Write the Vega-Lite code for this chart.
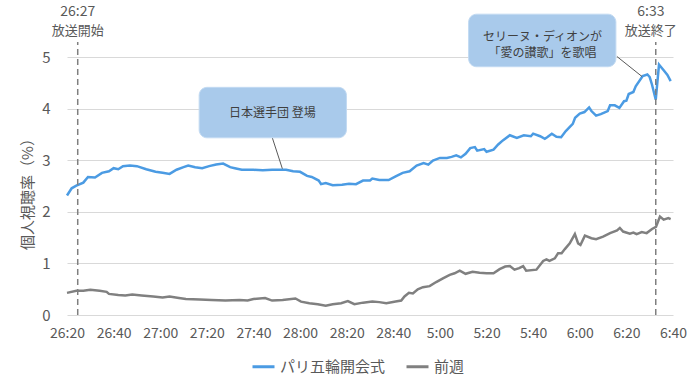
{
  "$schema": "https://vega.github.io/schema/vega-lite/v6.json",
  "width": 606,
  "height": 273,
  "autosize": {"type": "none"},
  "padding": {"left": 67, "top": 42, "right": 27, "bottom": 71},
  "config": {"view": {"stroke": null}, "font": "Noto Sans CJK JP"},
  "datasets": {
    "lines": [
      {"s": "パリ五輪開会式", "t": 0, "v": 2.32}, {"s": "パリ五輪開会式", "t": 2, "v": 2.46}, {"s": "パリ五輪開会式", "t": 4, "v": 2.51}, {"s": "パリ五輪開会式", "t": 7, "v": 2.57}, {"s": "パリ五輪開会式", "t": 9, "v": 2.68}, {"s": "パリ五輪開会式", "t": 12, "v": 2.67}, {"s": "パリ五輪開会式", "t": 15, "v": 2.76}, {"s": "パリ五輪開会式", "t": 18, "v": 2.79}, {"s": "パリ五輪開会式", "t": 20, "v": 2.85}, {"s": "パリ五輪開会式", "t": 22, "v": 2.83}, {"s": "パリ五輪開会式", "t": 24, "v": 2.89}, {"s": "パリ五輪開会式", "t": 27, "v": 2.9}, {"s": "パリ五輪開会式", "t": 30, "v": 2.89}, {"s": "パリ五輪開会式", "t": 34, "v": 2.83}, {"s": "パリ五輪開会式", "t": 38, "v": 2.78}, {"s": "パリ五輪開会式", "t": 41, "v": 2.76}, {"s": "パリ五輪開会式", "t": 44, "v": 2.74}, {"s": "パリ五輪開会式", "t": 47, "v": 2.82}, {"s": "パリ五輪開会式", "t": 50, "v": 2.87}, {"s": "パリ五輪開会式", "t": 52, "v": 2.9}, {"s": "パリ五輪開会式", "t": 55, "v": 2.87}, {"s": "パリ五輪開会式", "t": 58, "v": 2.85}, {"s": "パリ五輪開会式", "t": 61, "v": 2.89}, {"s": "パリ五輪開会式", "t": 64, "v": 2.92}, {"s": "パリ五輪開会式", "t": 67, "v": 2.94}, {"s": "パリ五輪開会式", "t": 70, "v": 2.87}, {"s": "パリ五輪開会式", "t": 72, "v": 2.85}, {"s": "パリ五輪開会式", "t": 75, "v": 2.82}, {"s": "パリ五輪開会式", "t": 80, "v": 2.82}, {"s": "パリ五輪開会式", "t": 84, "v": 2.81}, {"s": "パリ五輪開会式", "t": 88, "v": 2.82}, {"s": "パリ五輪開会式", "t": 94, "v": 2.82}, {"s": "パリ五輪開会式", "t": 97, "v": 2.79}, {"s": "パリ五輪開会式", "t": 100, "v": 2.78}, {"s": "パリ五輪開会式", "t": 103, "v": 2.7}, {"s": "パリ五輪開会式", "t": 105, "v": 2.68}, {"s": "パリ五輪開会式", "t": 108, "v": 2.61}, {"s": "パリ五輪開会式", "t": 109, "v": 2.54}, {"s": "パリ五輪開会式", "t": 111, "v": 2.56}, {"s": "パリ五輪開会式", "t": 114, "v": 2.52}, {"s": "パリ五輪開会式", "t": 118, "v": 2.53}, {"s": "パリ五輪開会式", "t": 121, "v": 2.55}, {"s": "パリ五輪開会式", "t": 124, "v": 2.54}, {"s": "パリ五輪開会式", "t": 127, "v": 2.61}, {"s": "パリ五輪開会式", "t": 130, "v": 2.61}, {"s": "パリ五輪開会式", "t": 131, "v": 2.65}, {"s": "パリ五輪開会式", "t": 134, "v": 2.62}, {"s": "パリ五輪開会式", "t": 138, "v": 2.62}, {"s": "パリ五輪開会式", "t": 141, "v": 2.69}, {"s": "パリ五輪開会式", "t": 144, "v": 2.76}, {"s": "パリ五輪開会式", "t": 147, "v": 2.79}, {"s": "パリ五輪開会式", "t": 150, "v": 2.9}, {"s": "パリ五輪開会式", "t": 153, "v": 2.95}, {"s": "パリ五輪開会式", "t": 155, "v": 2.92}, {"s": "パリ五輪開会式", "t": 157, "v": 3.0}, {"s": "パリ五輪開会式", "t": 160, "v": 3.05}, {"s": "パリ五輪開会式", "t": 163, "v": 3.05}, {"s": "パリ五輪開会式", "t": 165, "v": 3.07}, {"s": "パリ五輪開会式", "t": 167, "v": 3.1}, {"s": "パリ五輪開会式", "t": 169, "v": 3.06}, {"s": "パリ五輪開会式", "t": 171, "v": 3.13}, {"s": "パリ五輪開会式", "t": 173, "v": 3.24}, {"s": "パリ五輪開会式", "t": 175, "v": 3.26}, {"s": "パリ五輪開会式", "t": 176, "v": 3.19}, {"s": "パリ五輪開会式", "t": 179, "v": 3.22}, {"s": "パリ五輪開会式", "t": 180, "v": 3.17}, {"s": "パリ五輪開会式", "t": 183, "v": 3.21}, {"s": "パリ五輪開会式", "t": 185, "v": 3.31}, {"s": "パリ五輪開会式", "t": 187, "v": 3.39}, {"s": "パリ五輪開会式", "t": 190, "v": 3.49}, {"s": "パリ五輪開会式", "t": 193, "v": 3.44}, {"s": "パリ五輪開会式", "t": 196, "v": 3.49}, {"s": "パリ五輪開会式", "t": 199, "v": 3.47}, {"s": "パリ五輪開会式", "t": 200, "v": 3.52}, {"s": "パリ五輪開会式", "t": 203, "v": 3.47}, {"s": "パリ五輪開会式", "t": 205, "v": 3.42}, {"s": "パリ五輪開会式", "t": 206, "v": 3.45}, {"s": "パリ五輪開会式", "t": 208, "v": 3.52}, {"s": "パリ五輪開会式", "t": 210, "v": 3.46}, {"s": "パリ五輪開会式", "t": 212, "v": 3.45}, {"s": "パリ五輪開会式", "t": 214, "v": 3.57}, {"s": "パリ五輪開会式", "t": 217, "v": 3.71}, {"s": "パリ五輪開会式", "t": 218, "v": 3.83}, {"s": "パリ五輪開会式", "t": 220, "v": 3.91}, {"s": "パリ五輪開会式", "t": 222, "v": 3.94}, {"s": "パリ五輪開会式", "t": 224, "v": 4.03}, {"s": "パリ五輪開会式", "t": 225, "v": 3.96}, {"s": "パリ五輪開会式", "t": 227, "v": 3.87}, {"s": "パリ五輪開会式", "t": 229, "v": 3.9}, {"s": "パリ五輪開会式", "t": 232, "v": 3.96}, {"s": "パリ五輪開会式", "t": 233, "v": 4.07}, {"s": "パリ五輪開会式", "t": 235, "v": 4.07}, {"s": "パリ五輪開会式", "t": 237, "v": 4.02}, {"s": "パリ五輪開会式", "t": 239, "v": 4.15}, {"s": "パリ五輪開会式", "t": 240, "v": 4.16}, {"s": "パリ五輪開会式", "t": 241, "v": 4.29}, {"s": "パリ五輪開会式", "t": 243, "v": 4.33}, {"s": "パリ五輪開会式", "t": 244, "v": 4.44}, {"s": "パリ五輪開会式", "t": 247, "v": 4.64}, {"s": "パリ五輪開会式", "t": 249, "v": 4.67}, {"s": "パリ五輪開会式", "t": 250, "v": 4.62}, {"s": "パリ五輪開会式", "t": 251, "v": 4.47}, {"s": "パリ五輪開会式", "t": 252.6, "v": 4.18}, {"s": "パリ五輪開会式", "t": 254, "v": 4.86}, {"s": "パリ五輪開会式", "t": 256, "v": 4.75}, {"s": "パリ五輪開会式", "t": 257.6, "v": 4.66}, {"s": "パリ五輪開会式", "t": 259, "v": 4.54},
      {"s": "前週", "t": 0, "v": 0.43}, {"s": "前週", "t": 4, "v": 0.47}, {"s": "前週", "t": 7, "v": 0.47}, {"s": "前週", "t": 10, "v": 0.49}, {"s": "前週", "t": 14, "v": 0.47}, {"s": "前週", "t": 17, "v": 0.45}, {"s": "前週", "t": 18, "v": 0.41}, {"s": "前週", "t": 22, "v": 0.39}, {"s": "前週", "t": 25, "v": 0.38}, {"s": "前週", "t": 28, "v": 0.4}, {"s": "前週", "t": 32, "v": 0.38}, {"s": "前週", "t": 37, "v": 0.36}, {"s": "前週", "t": 41, "v": 0.34}, {"s": "前週", "t": 44, "v": 0.36}, {"s": "前週", "t": 48, "v": 0.33}, {"s": "前週", "t": 51, "v": 0.31}, {"s": "前週", "t": 57, "v": 0.3}, {"s": "前週", "t": 62, "v": 0.29}, {"s": "前週", "t": 68, "v": 0.28}, {"s": "前週", "t": 74, "v": 0.29}, {"s": "前週", "t": 77.5, "v": 0.28}, {"s": "前週", "t": 80, "v": 0.31}, {"s": "前週", "t": 85, "v": 0.33}, {"s": "前週", "t": 88, "v": 0.28}, {"s": "前週", "t": 92.5, "v": 0.29}, {"s": "前週", "t": 98, "v": 0.32}, {"s": "前週", "t": 100.4, "v": 0.26}, {"s": "前週", "t": 104, "v": 0.23}, {"s": "前週", "t": 107.6, "v": 0.21}, {"s": "前週", "t": 111, "v": 0.18}, {"s": "前週", "t": 114, "v": 0.21}, {"s": "前週", "t": 117.6, "v": 0.23}, {"s": "前週", "t": 120.5, "v": 0.27}, {"s": "前週", "t": 123.3, "v": 0.21}, {"s": "前週", "t": 127, "v": 0.24}, {"s": "前週", "t": 131, "v": 0.26}, {"s": "前週", "t": 134, "v": 0.25}, {"s": "前週", "t": 137, "v": 0.23}, {"s": "前週", "t": 141, "v": 0.26}, {"s": "前週", "t": 143.4, "v": 0.28}, {"s": "前週", "t": 144.8, "v": 0.36}, {"s": "前週", "t": 146.7, "v": 0.43}, {"s": "前週", "t": 148.4, "v": 0.42}, {"s": "前週", "t": 150.5, "v": 0.5}, {"s": "前週", "t": 152.7, "v": 0.54}, {"s": "前週", "t": 155.6, "v": 0.56}, {"s": "前週", "t": 158.4, "v": 0.64}, {"s": "前週", "t": 161.3, "v": 0.71}, {"s": "前週", "t": 164.2, "v": 0.78}, {"s": "前週", "t": 166.3, "v": 0.81}, {"s": "前週", "t": 168.5, "v": 0.86}, {"s": "前週", "t": 171, "v": 0.8}, {"s": "前週", "t": 174, "v": 0.84}, {"s": "前週", "t": 177, "v": 0.82}, {"s": "前週", "t": 180, "v": 0.81}, {"s": "前週", "t": 183, "v": 0.81}, {"s": "前週", "t": 185.6, "v": 0.89}, {"s": "前週", "t": 188, "v": 0.94}, {"s": "前週", "t": 190, "v": 0.95}, {"s": "前週", "t": 192, "v": 0.88}, {"s": "前週", "t": 194, "v": 0.91}, {"s": "前週", "t": 195.7, "v": 0.95}, {"s": "前週", "t": 197, "v": 0.86}, {"s": "前週", "t": 201.4, "v": 0.88}, {"s": "前週", "t": 204.3, "v": 1.05}, {"s": "前週", "t": 205.7, "v": 1.08}, {"s": "前週", "t": 207, "v": 1.05}, {"s": "前週", "t": 209.3, "v": 1.1}, {"s": "前週", "t": 210.7, "v": 1.2}, {"s": "前週", "t": 212.2, "v": 1.2}, {"s": "前週", "t": 213.6, "v": 1.28}, {"s": "前週", "t": 215.7, "v": 1.39}, {"s": "前週", "t": 217.9, "v": 1.57}, {"s": "前週", "t": 219.3, "v": 1.39}, {"s": "前週", "t": 220.3, "v": 1.36}, {"s": "前週", "t": 222.2, "v": 1.54}, {"s": "前週", "t": 225, "v": 1.49}, {"s": "前週", "t": 227, "v": 1.47}, {"s": "前週", "t": 230, "v": 1.52}, {"s": "前週", "t": 233, "v": 1.59}, {"s": "前週", "t": 236, "v": 1.64}, {"s": "前週", "t": 237.2, "v": 1.69}, {"s": "前週", "t": 238.6, "v": 1.62}, {"s": "前週", "t": 241.5, "v": 1.58}, {"s": "前週", "t": 243, "v": 1.6}, {"s": "前週", "t": 244.4, "v": 1.57}, {"s": "前週", "t": 246.6, "v": 1.61}, {"s": "前週", "t": 248.7, "v": 1.59}, {"s": "前週", "t": 251, "v": 1.67}, {"s": "前週", "t": 252.7, "v": 1.71}, {"s": "前週", "t": 254.4, "v": 1.91}, {"s": "前週", "t": 256, "v": 1.85}, {"s": "前週", "t": 258, "v": 1.88}, {"s": "前週", "t": 259, "v": 1.86}
    ],
    "marks": [
      {"t": 4.6, "v": 0, "v2": 5.3},
      {"t": 252.6, "v": 0, "v2": 5.3}
    ],
    "markText": [
      {"t": 4.6, "v": 5.3, "time": "26:27", "desc": "放送開始"},
      {"t": 250.5, "v": 5.3, "time": "6:33", "desc": "放送終了"}
    ],
    "boxes": [
      {"t": 56.7, "t2": 119.9, "v": 3.44, "v2": 4.42},
      {"t": 172.3, "t2": 235.5, "v": 4.82, "v2": 5.84}
    ],
    "boxText": [
      {"t": 88.1, "v": 3.93, "label": "日本選手団 登場"},
      {"t": 204, "v": 5.39, "label": "セリーヌ・ディオンが\n「愛の讃歌」を歌唱"}
    ],
    "leaders": [
      {"t": 88.1, "v": 3.44, "t2": 92.4, "v2": 2.84},
      {"t": 235.9, "v": 5.02, "t2": 246.7, "v2": 4.63}
    ]
  },
  "encoding": {
    "x": {
      "field": "t", "type": "quantitative",
      "scale": {"domain": [0, 260], "nice": false, "zero": false},
      "axis": {
        "title": null, "values": [0, 20, 40, 60, 80, 100, 120, 140, 160, 180, 200, 220, 240, 260],
        "labelExpr": "(floor((1580+datum.value)/60) >= 29 ? floor((1580+datum.value)/60) - 24 : floor((1580+datum.value)/60)) + ':' + (((1580+datum.value)%60) < 10 ? '0' : '') + ((1580+datum.value)%60)",
        "grid": false, "domain": false, "ticks": false, "labelPadding": 11, "labelFontSize": 14,
        "labelColor": "#595959", "labelFont": "Noto Sans CJK JP", "labelFlush": false
      }
    },
    "y": {
      "field": "v", "type": "quantitative",
      "scale": {"domain": [0, 5.3], "nice": false},
      "axis": {
        "title": "個人視聴率（%）", "values": [0, 1, 2, 3, 4, 5], "grid": true, "gridColor": "#d9d9d9",
        "domain": false, "ticks": false, "labelPadding": 17, "labelFontSize": 15, "labelColor": "#595959",
        "labelFont": "Noto Sans CJK JP", "titleFont": "Noto Sans CJK JP", "titleFontSize": 15,
        "titleColor": "#595959", "titleFontWeight": "normal", "titleX": -40, "titleY": 148,
        "titleAngle": 270, "titleAlign": "center", "titleBaseline": "middle"
      }
    }
  },
  "layer": [
    {
      "data": {"name": "lines"},
      "mark": {"type": "line", "strokeWidth": 2.5},
      "encoding": {
        "color": {
          "field": "s", "type": "nominal",
          "scale": {"domain": ["パリ五輪開会式", "前週"], "range": ["#4b9be3", "#808080"]},
          "legend": {
            "orient": "none", "legendX": 184, "legendY": 312, "direction": "horizontal", "title": null,
            "symbolType": "stroke", "symbolStrokeWidth": 3, "symbolSize": 484, "labelFontSize": 15,
            "labelColor": "#595959", "labelFont": "Noto Sans CJK JP", "columnPadding": 14, "labelOffset": 4
          }
        }
      }
    },
    {
      "data": {"name": "marks"},
      "mark": {"type": "rule", "color": "#7f7f7f", "strokeWidth": 1.5, "strokeDash": [6, 4]},
      "encoding": {"y2": {"field": "v2"}}
    },
    {
      "data": {"name": "markText"},
      "mark": {"type": "text", "baseline": "bottom", "dy": -23, "fontSize": 14, "color": "#595959", "font": "Noto Sans CJK JP"},
      "encoding": {"text": {"field": "time"}}
    },
    {
      "data": {"name": "markText"},
      "mark": {"type": "text", "baseline": "bottom", "dy": -4, "fontSize": 13, "color": "#595959", "font": "Noto Sans CJK JP"},
      "encoding": {"text": {"field": "desc"}}
    },
    {
      "data": {"name": "leaders"},
      "mark": {"type": "rule", "color": "#595959", "strokeWidth": 1},
      "encoding": {"x2": {"field": "t2"}, "y2": {"field": "v2"}}
    },
    {
      "data": {"name": "boxes"},
      "mark": {"type": "rect", "cornerRadius": 8, "fill": "#a9caeb", "stroke": "#c2daf2", "strokeWidth": 1},
      "encoding": {"x2": {"field": "t2"}, "y2": {"field": "v2"}}
    },
    {
      "data": {"name": "boxText"},
      "mark": {"type": "text", "baseline": "middle", "align": "center", "fontSize": 12, "lineHeight": 16, "lineBreak": "\n", "color": "#404040", "font": "Noto Sans CJK JP"},
      "encoding": {"text": {"field": "label"}}
    }
  ]
}
